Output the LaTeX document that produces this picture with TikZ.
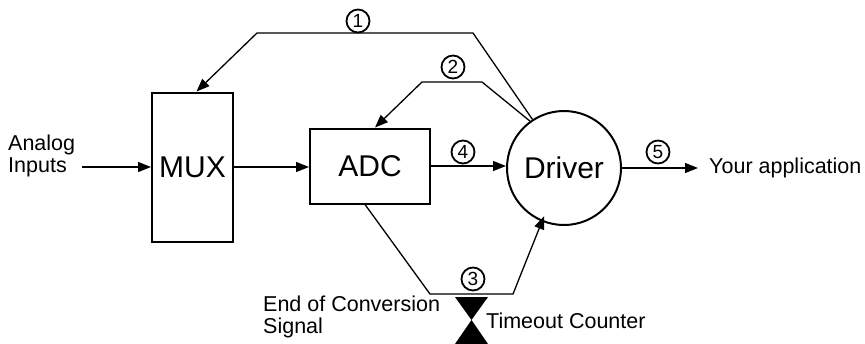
\documentclass[tikz,border=0pt]{standalone}
\usepackage{fontspec}
\setmainfont{Liberation Sans}
\usetikzlibrary{arrows.meta,positioning}

\begin{document}
\begin{tikzpicture}[x=1pt,y=-1pt,
  blk/.style={draw, line width=2pt, inner sep=0pt, font=\fontsize{30}{32}\selectfont},
  txt/.style={anchor=west, align=left, inner sep=0pt, font=\fontsize{21.5}{22}\selectfont},
  num/.style={circle, draw, line width=1.8pt, minimum size=23pt, inner sep=0pt, font=\fontsize{19}{19}\selectfont},
  arr/.style={-{Triangle[length=13pt,width=10pt]}, line width=1.3pt},
  ln/.style={line width=1.3pt}
]
\useasboundingbox (0,0) rectangle (865,343);
\node[blk, minimum width=81pt, minimum height=149pt] (mux) at (192.5,167) {MUX};
\node[blk, minimum width=120pt, minimum height=75pt] (adc) at (370,166) {ADC};
\node[blk, circle, minimum size=114pt] (drv) at (564,168) {Driver};
\node[txt] (ain) at (8,156) {Analog\\Inputs};
\node[txt] (app) at (709,168) {Your application};
\node[txt] (eoc) at (263,317) {End of Conversion\\Signal};
\node[txt] (tmo) at (486,321) {Timeout Counter};
% circled step numbers
\node[num] (n1) at (358,21) {1};
\node[num] (n2) at (453,67) {2};
\node[num] (n3) at (473,279) {3};
\node[num] (n4) at (463,152) {4};
\node[num] (n5) at (658,152) {5};
% main signal path
\draw[arr] ([xshift=7pt]ain.east |- mux.west) -- (mux.west);
\draw[arr] (mux.east) -- (mux.east -| adc.west);
\draw[arr] (adc.east) -- (adc.east -| drv.west);
\draw[arr] (drv.east) -- ([xshift=-11pt]app.west);
% control lines from the driver
\draw[arr] (drv.123) -- (473,33) -- (257,33) -- ([xshift=4pt]mux.north);
\draw[arr] (drv.126) -- (482,82) -- (422,82) -- ([xshift=5pt]adc.north);
\draw[arr] ([xshift=-5pt]adc.south) -- (430,294) -- (513,294) -- ([shift={(-2pt,7pt)}]drv.252);
% timeout counter
\fill (455,297) -- (488,297) -- (471.5,320) -- cycle;
\fill (471.5,320) -- (455,344) -- (488,344) -- cycle;
\end{tikzpicture}
\end{document}
